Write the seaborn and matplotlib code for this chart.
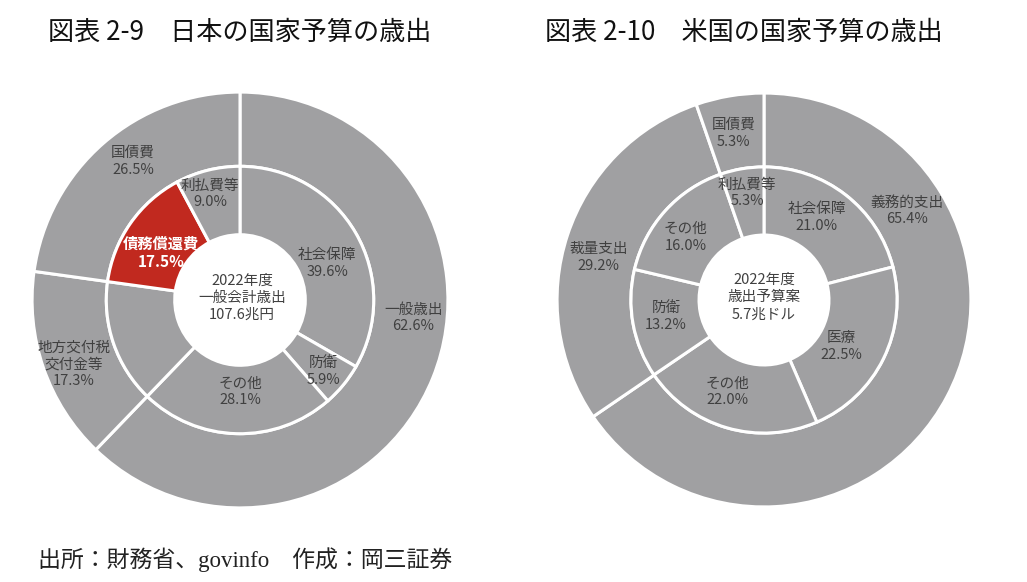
import matplotlib
matplotlib.use('Agg')
import matplotlib.pyplot as plt
import seaborn as sns

# 日本 (図表 2-9) : 外側=大分類, 内側=内訳 (角度は図から読み取り)
jp_outer_labels = ['一般歳出', '地方交付税\n交付金等', '国債費']
jp_outer_sizes = [62.2, 15.0, 22.8]
jp_outer_pct = ['62.6%', '17.3%', '26.5%']
jp_inner_labels = ['社会保障', '防衛', 'その他', '', '債務償還費', '利払費等']
jp_inner_sizes = [33.3, 5.3, 23.6, 15.0, 15.0, 7.8]
jp_inner_pct = ['39.6%', '5.9%', '28.1%', '', '17.5%', '9.0%']
jp_center = '2022年度\n一般会計歳出\n107.6兆円'

# 米国 (図表 2-10)
us_outer_labels = ['義務的支出', '裁量支出', '国債費']
us_outer_sizes = [65.4, 29.2, 5.3]
us_inner_labels = ['社会保障', '医療', 'その他', '防衛', 'その他', '利払費等']
us_inner_sizes = [21.0, 22.5, 22.0, 13.2, 16.0, 5.3]
us_center = '2022年度\n歳出予算案\n5.7兆ドル'

sns.set_theme(style='white')
plt.rcParams['font.family'] = ['Noto Sans CJK JP', 'DejaVu Sans']

GRAY = '#a0a0a2'
RED = '#c1291f'
TXT = '#404040'
R_IN = 0.643
R_HOLE = 0.314

W, H = 1027, 582
fig = plt.figure(figsize=(W / 100, H / 100), dpi=100)
fig.patch.set_facecolor('white')


def donut(cx, cy, r, outer_sizes, inner_sizes, inner_colors):
    ax = fig.add_axes([(cx - r) / W, (H - cy - r) / H, 2 * r / W, 2 * r / H])
    wp = dict(edgecolor='white', linewidth=2.2)
    ax.pie(outer_sizes, radius=1.0, startangle=90, counterclock=False,
           colors=[GRAY] * len(outer_sizes), wedgeprops=dict(width=1.0 - R_IN, **wp))
    ax.pie(inner_sizes, radius=R_IN, startangle=90, counterclock=False,
           colors=inner_colors, wedgeprops=dict(width=R_IN - R_HOLE, **wp))
    ax.set_xlim(-1.01, 1.01)
    ax.set_ylim(-1.01, 1.01)
    ax.set_aspect('equal')
    ax.axis('off')
    return ax


# 左: 日本
ax1 = donut(240, 300, 210, jp_outer_sizes, jp_inner_sizes,
            [GRAY, GRAY, GRAY, GRAY, RED, GRAY])
jp_outer_pos = [(0.833, -0.086), (-0.80, -0.31), (-0.514, 0.667)]
for (x, y), lab, pct in zip(jp_outer_pos, jp_outer_labels, jp_outer_pct):
    ax1.text(x, y, f'{lab}\n{pct}', ha='center', va='center', fontsize=10.5,
             color=TXT, linespacing=1.25)
jp_inner_pos = [(0.419, 0.176), (0.40, -0.343), (0.0, -0.443), None,
                (-0.381, 0.229), (-0.143, 0.51)]
for pos, lab, pct in zip(jp_inner_pos, jp_inner_labels, jp_inner_pct):
    if pos is None:
        continue
    if lab == '債務償還費':
        ax1.text(pos[0], pos[1], f'{lab}\n{pct}', ha='center', va='center',
                 fontsize=11, color='white', fontweight='bold', linespacing=1.2)
    else:
        ax1.text(pos[0], pos[1], f'{lab}\n{pct}', ha='center', va='center',
                 fontsize=10.5, color=TXT, linespacing=1.25)
ax1.text(0.01, 0.01, jp_center, ha='center', va='center', fontsize=10.5,
         color=TXT, linespacing=1.3)

# 右: 米国
ax2 = donut(764, 300, 209, us_outer_sizes, us_inner_sizes, [GRAY] * 6)
us_outer_pos = [(0.689, 0.431), (-0.799, 0.206), (-0.148, 0.804)]
for (x, y), lab, v in zip(us_outer_pos, us_outer_labels, us_outer_sizes):
    ax2.text(x, y, f'{lab}\n{v:.1f}%', ha='center', va='center', fontsize=10.5,
             color=TXT, linespacing=1.25)
us_inner_pos = [(0.254, 0.397), (0.373, -0.225), (-0.177, -0.445),
                (-0.474, -0.081), (-0.378, 0.301), (-0.081, 0.517)]
for (x, y), lab, v in zip(us_inner_pos, us_inner_labels, us_inner_sizes):
    ax2.text(x, y, f'{lab}\n{v:.1f}%', ha='center', va='center', fontsize=10.5,
             color=TXT, linespacing=1.25)
ax2.text(0.0, 0.014, us_center, ha='center', va='center', fontsize=10.5,
         color=TXT, linespacing=1.3)

# タイトルと出所
fig.text(48 / W, 1 - 32 / H, '図表 2-9\u3000日本の国家予算の歳出', ha='left',
         va='center', fontsize=18.8, color='#111111')
fig.text(545 / W, 1 - 32 / H, '図表 2-10\u3000米国の国家予算の歳出', ha='left',
         va='center', fontsize=18.8, color='#111111')
fig.text(38 / W, 22 / H, '出所：財務省、govinfo\u3000作成：岡三証券', ha='left',
         va='center', fontsize=16.5, color='#222222',
         family=['Liberation Serif', 'Noto Sans CJK JP'])

fig.savefig('out.png', dpi=100)
